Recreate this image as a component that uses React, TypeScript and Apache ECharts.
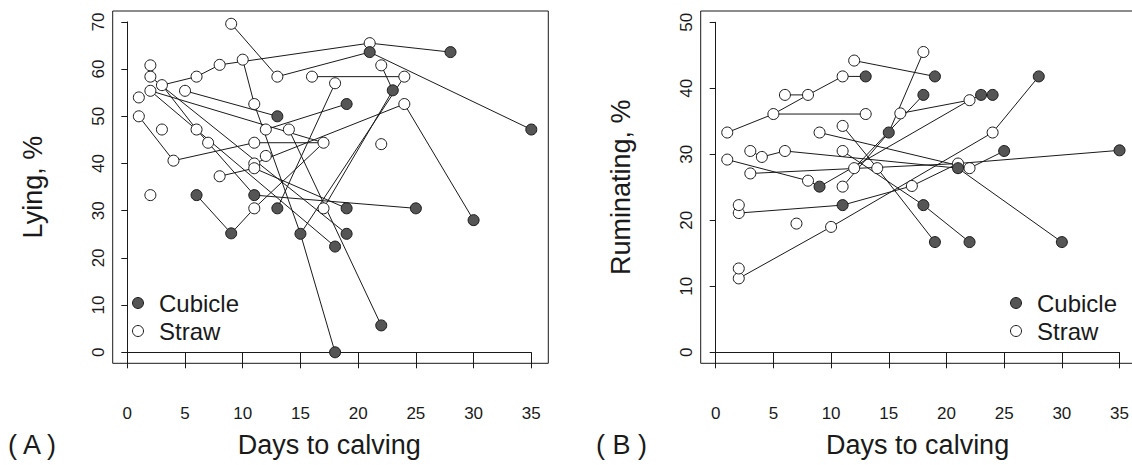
import React, { useEffect, useRef } from "react";
import * as echarts from "echarts";

type Pt = [number, number, string];

const xTickValues = [0, 5, 10, 15, 20, 25, 30, 35];
const lyingTicks = [0, 10, 20, 30, 40, 50, 60, 70];
const rumTicks = [0, 10, 20, 30, 40, 50];
const legendLabels = ["Cubicle", "Straw"];
const xTitle = "Days to calving";
const lyingTitle = "Lying, %";
const rumTitle = "Ruminating, %";
const panelTags = ["( A )", "( B )"];

// Lying: each cow is a sequence of observations [days to calving, %, housing]
const lyingCows: Pt[][] = [
  [[35, 47.2, "C"], [21, 63.6, "C"], [13, 58.4, "S"], [9, 69.6, "S"]],
  [[28, 63.6, "C"], [21, 65.5, "S"], [8, 60.9, "S"], [6, 58.4, "S"], [3, 56.6, "S"]],
  [[22, 60.8, "S"], [23, 55.5, "C"], [17, 30.5, "S"]],
  [[30, 28, "C"], [24, 52.6, "S"], [11, 40, "S"]],
  [[16, 58.4, "S"], [24, 58.4, "S"], [15, 25.1, "C"]],
  [[18, 0, "C"], [15, 25.1, "C"], [11, 52.6, "S"], [10, 62, "S"]],
  [[5, 55.4, "S"], [13, 50, "C"]],
  [[2, 55.4, "S"], [17, 44.4, "S"]],
  [[22, 5.7, "C"], [14, 47.2, "S"]],
  [[2, 55.4, "S"], [18, 22.4, "C"]],
  [[2, 58.4, "S"], [19, 25.1, "C"]],
  [[1, 50, "S"], [4, 40.6, "S"], [11, 44.4, "S"], [17, 44.4, "S"]],
  [[6, 33.3, "C"], [9, 25.2, "C"], [11, 30.5, "S"], [17, 44.4, "S"]],
  [[25, 30.5, "C"], [11, 33.3, "C"], [7, 44.4, "S"], [6, 47.2, "S"], [3, 56.6, "S"]],
  [[19, 30.5, "C"], [11, 39, "S"], [8, 37.3, "S"]],
  [[19, 52.6, "C"], [12, 47.2, "S"]],
  [[18, 57, "S"], [13, 30.5, "C"]],
];
const lyingSingles: Pt[] = [
  [1, 54, "S"], [2, 60.8, "S"], [2, 33.3, "S"], [3, 47.2, "S"], [12, 41.6, "S"], [22, 44.1, "S"],
];

// Ruminating
const rumCows: Pt[][] = [
  [[13, 41.8, "C"], [11, 41.8, "S"], [8, 39, "S"], [5, 36.1, "S"], [1, 33.3, "S"]],
  [[6, 39, "S"], [8, 39, "S"]],
  [[5, 36.1, "S"], [13, 36.1, "S"]],
  [[19, 41.8, "C"], [12, 44.2, "S"]],
  [[18, 45.5, "S"], [15, 33.3, "C"], [11, 25.1, "S"]],
  [[24, 39, "C"], [23, 39, "C"], [22, 38.2, "S"], [16, 36.2, "S"]],
  [[1, 29.2, "S"], [8, 26, "S"], [9, 25.1, "C"], [22, 38.2, "S"]],
  [[18, 39, "C"], [12, 27.9, "S"]],
  [[28, 41.8, "C"], [24, 33.3, "S"], [10, 19, "S"], [2, 11.2, "S"]],
  [[25, 30.5, "C"], [22, 27.9, "S"], [9, 33.3, "S"]],
  [[35, 30.6, "C"], [21, 28.6, "S"], [3, 27.1, "S"]],
  [[30, 16.7, "C"], [21, 27.9, "C"], [6, 30.5, "S"], [4, 29.6, "S"], [3, 30.5, "S"]],
  [[22, 16.7, "C"], [18, 22.3, "C"], [11, 30.5, "S"]],
  [[19, 16.7, "C"], [14, 27.9, "S"], [11, 34.3, "S"]],
  [[2, 21.1, "S"], [11, 22.3, "C"], [17, 25.2, "S"], [21, 28.6, "S"]],
];
const rumSingles: Pt[] = [[2, 22.3, "S"], [7, 19.5, "S"], [2, 12.7, "S"]];

const FONT = "'Liberation Sans', Arial, sans-serif";
const INK = "#1a1a1a";
const FILL_C = "#555555";

function uniquePoints(cows: Pt[][], singles: Pt[], kind: string) {
  const seen = new Set<string>();
  const out: number[][] = [];
  [...cows.flat(), ...singles].forEach((p) => {
    if (p[2] !== kind) return;
    const k = p[0] + "_" + p[1];
    if (seen.has(k)) return;
    seen.add(k);
    out.push([p[0], p[1]]);
  });
  return out;
}

function panelSeries(cows: Pt[][], singles: Pt[], idx: number) {
  const s: any[] = [];
  cows.forEach((cow) => {
    s.push({
      type: "line",
      xAxisIndex: idx,
      yAxisIndex: idx,
      data: cow.map((p) => [p[0], p[1]]),
      symbol: "none",
      lineStyle: { color: INK, width: 1 },
      silent: true,
      z: 2,
      clip: false,
    });
  });
  s.push({
    type: "scatter",
    xAxisIndex: idx,
    yAxisIndex: idx,
    data: uniquePoints(cows, singles, "S"),
    symbol: "circle",
    symbolSize: 11,
    itemStyle: { color: "#ffffff", borderColor: INK, borderWidth: 1, opacity: 1 },
    z: 3,
    clip: false,
  });
  s.push({
    type: "scatter",
    xAxisIndex: idx,
    yAxisIndex: idx,
    data: uniquePoints(cows, singles, "C"),
    symbol: "circle",
    symbolSize: 11,
    itemStyle: { color: FILL_C, borderColor: INK, borderWidth: 1, opacity: 1 },
    z: 3,
    clip: false,
  });
  return s;
}

function xAxisCfg(grid: number) {
  return {
    type: "value",
    gridIndex: grid,
    min: xTickValues[0],
    max: xTickValues[xTickValues.length - 1],
    interval: xTickValues[1] - xTickValues[0],
    offset: 11,
    splitLine: { show: false },
    axisLine: { show: true, lineStyle: { color: INK, width: 1 } },
    axisTick: { show: true, length: 16, lineStyle: { color: INK, width: 1 } },
    axisLabel: { color: INK, fontSize: 17, fontFamily: FONT, margin: 42 },
    name: xTitle,
    nameLocation: "middle",
    nameGap: 68,
    nameTextStyle: { color: INK, fontSize: 27, fontFamily: FONT },
  };
}

function yAxisCfg(grid: number, ticks: number[], offset: number, title: string) {
  return {
    type: "value",
    gridIndex: grid,
    min: ticks[0],
    max: ticks[ticks.length - 1],
    interval: ticks[1] - ticks[0],
    offset,
    splitLine: { show: false },
    axisLine: { show: true, lineStyle: { color: INK, width: 1 } },
    axisTick: { show: true, length: 6, lineStyle: { color: INK, width: 1 } },
    axisLabel: { color: INK, fontSize: 17, fontFamily: FONT, margin: 6, rotate: 90 },
    name: title,
    nameLocation: "middle",
    nameGap: 66,
    nameTextStyle: { color: INK, fontSize: 27, fontFamily: FONT },
  };
}

function legendGraphic(x: number, y: number) {
  return [
    { type: "circle", shape: { cx: x, cy: y, r: 5.5 }, style: { fill: FILL_C, stroke: INK, lineWidth: 1 }, z: 10 },
    { type: "circle", shape: { cx: x, cy: y + 28, r: 5.5 }, style: { fill: "#fff", stroke: INK, lineWidth: 1 }, z: 10 },
    { type: "text", x: x + 21, y: y, style: { text: legendLabels[0], fill: INK, fontSize: 24, fontFamily: FONT, verticalAlign: "middle" }, z: 10 },
    { type: "text", x: x + 21, y: y + 28, style: { text: legendLabels[1], fill: INK, fontSize: 24, fontFamily: FONT, verticalAlign: "middle" }, z: 10 },
  ];
}

export default function App() {
  const ref = useRef<HTMLDivElement>(null);
  useEffect(() => {
    if (!ref.current) return;
    const chart = echarts.init(ref.current, undefined, { renderer: "svg" });
    chart.setOption({
      animation: false,
      backgroundColor: "#ffffff",
      grid: [
        { left: 127.3, top: 21.9, width: 404, height: 330.4, containLabel: false },
        { left: 715.7, top: 22.3, width: 404, height: 330, containLabel: false },
      ],
      xAxis: [xAxisCfg(0), xAxisCfg(1)],
      yAxis: [
        yAxisCfg(0, lyingTicks, 14.6, lyingTitle),
        yAxisCfg(1, rumTicks, 15, rumTitle),
      ],
      series: [...panelSeries(lyingCows, lyingSingles, 0), ...panelSeries(rumCows, rumSingles, 1)],
      graphic: [
        { type: "rect", shape: { x: 112.7, y: 11, width: 435.6, height: 352.3 }, style: { fill: "none", stroke: INK, lineWidth: 1 }, z: 1, silent: true },
        { type: "rect", shape: { x: 700.7, y: 11, width: 440, height: 352.3 }, style: { fill: "none", stroke: INK, lineWidth: 1 }, z: 1, silent: true },
        ...legendGraphic(138, 303),
        ...legendGraphic(1016, 303),
        { type: "text", x: 8, y: 445, style: { text: panelTags[0], fill: INK, fontSize: 27, fontFamily: FONT, verticalAlign: "middle" } },
        { type: "text", x: 596, y: 445, style: { text: panelTags[1], fill: INK, fontSize: 27, fontFamily: FONT, verticalAlign: "middle" } },
      ],
    });
    return () => chart.dispose();
  }, []);
  return (
    <div
      ref={ref}
      style={{ position: "fixed", left: 0, top: 0, width: 1132, height: 465, background: "#fff" }}
    />
  );
}
